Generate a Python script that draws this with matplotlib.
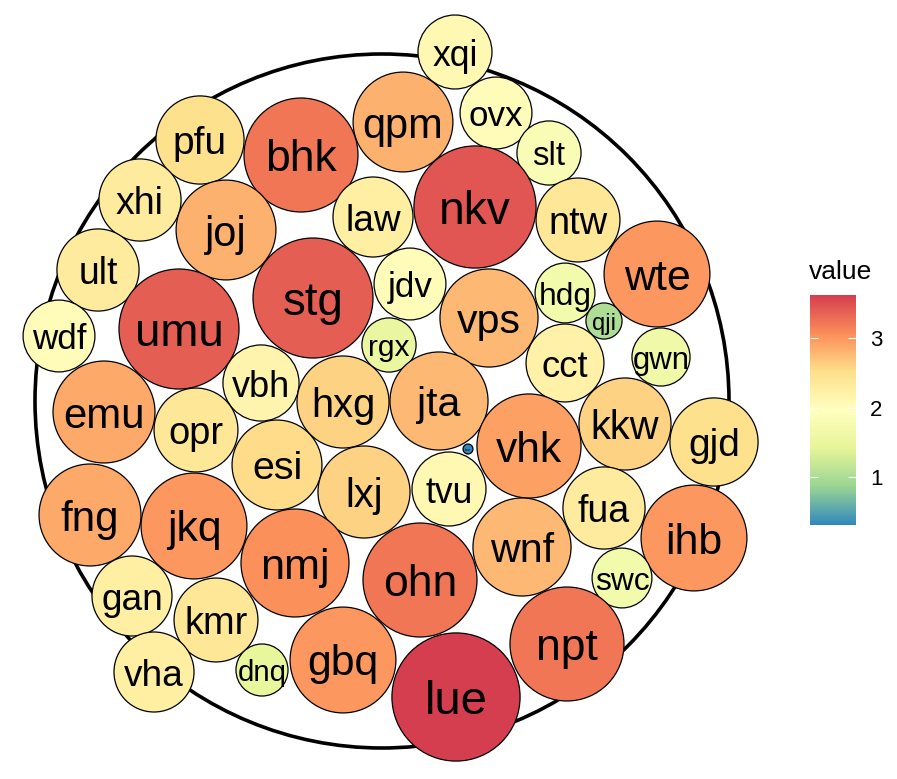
"""Packed bubble chart: 50 labelled circles inside an enclosing ring,
fill and size both driven by `value`, Spectral palette.
"""

import numpy as np
import matplotlib.pyplot as plt
from matplotlib.patches import Circle
from matplotlib.colors import LinearSegmentedColormap, Normalize
from matplotlib.cm import ScalarMappable

plt.rcParams["font.family"] = ["Liberation Sans", "DejaVu Sans"]

# circle centres (layout units, origin = centre of the enclosing ring, y up)
labels = ["xqi", "ovx", "slt", "qpm", "pfu", "bhk", "nkv", "xhi", "joj", "law",
          "ntw", "ult", "stg", "jdv", "wte", "hdg", "qji", "wdf", "umu", "rgx",
          "vps", "cct", "gwn", "vbh", "emu", "hxg", "jta", "opr", "kkw", "gjd",
          "bzo", "vhk", "esi", "lxj", "tvu", "fua", "fng", "jkq", "ihb", "wnf",
          "nmj", "ohn", "swc", "gan", "kmr", "npt", "gbq", "vha", "dnq", "lue"]
x = [73, 114, 167, 21, -182, -81, 93, -242, -156, -9,
     196, -284, -69, 28, 275, 183, 222, -323, -203, 7,
     107, 183, 279, -121, -278, -39, 57, -186, 243, 332,
     86, 147, -105, -18, 67, 222, -292, -188, 312, 140,
     -87, 38, 240, -250, -166, 185, -39, -228, -120, 74]
y = [349, 288, 248, 279, 261, 246, 194, 201, 171, 184,
     181, 131, 103, 117, 127, 108, 80, 65, 72, 56,
     83, 38, 44, 18, -11, -1, 0, -29, -23, -41,
     -48, -45, -64, -91, -88, -107, -114, -125, -137, -146,
     -162, -179, -177, -195, -219, -243, -259, -271, -269, -296]
value = [2.09, 2.03, 1.81, 2.82, 2.49, 3.22, 3.45, 2.32, 2.82, 2.26,
         2.37, 2.32, 3.39, 2.03, 2.99, 1.69, 1.02, 2.03, 3.39, 1.53,
         2.77, 2.20, 1.64, 2.15, 2.88, 2.60, 2.77, 2.37, 2.60, 2.49,
         0.28, 2.94, 2.54, 2.60, 2.09, 2.32, 2.88, 2.99, 2.99, 2.77,
         3.05, 3.22, 1.69, 2.26, 2.37, 3.22, 2.99, 2.26, 1.47, 3.62]

ring_radius = 347
px_per_value = 17.7          # circle radius = value * px_per_value
vmin, vmax = 0.31, 3.62

spectral = ["#3288BD", "#99D594", "#E6F598", "#FFFFBF",
            "#FEE08B", "#FC8D59", "#D53E4F"]
cmap = LinearSegmentedColormap.from_list("spectral_r", spectral)
norm = Normalize(vmin=vmin, vmax=vmax)

fig = plt.figure(figsize=(8.97, 7.79), dpi=100)
ax = fig.add_axes([0, 0, 1, 1])
ax.set_xlim(-382, 515)
ax.set_ylim(-378, 401)
ax.axis("off")

ax.add_patch(Circle((0, 0), ring_radius, fill=False, lw=2.6,
                    edgecolor="black", zorder=1))

for lab, cx, cy, v in zip(labels, x, y, value):
    ax.add_patch(Circle((cx, cy), v * px_per_value,
                        facecolor=cmap(norm(v)), edgecolor="black",
                        lw=0.9, zorder=2))
    t = np.clip((v - vmin) / (vmax - vmin), 0, 1)
    fs = 2.5 + (34 - 2.5) * np.sqrt(t)
    ax.text(cx, cy, lab, ha="center", va="center_baseline",
            fontsize=fs, color="black", zorder=3)

# colour bar
cax = fig.add_axes([810 / 897, 1 - 525 / 779, 46 / 897, 230 / 779])
cb = fig.colorbar(ScalarMappable(norm=norm, cmap=cmap), cax=cax,
                  ticks=[1, 2, 3])
cb.outline.set_visible(False)
cax.tick_params(direction="in", length=5.5, width=0.8, color="white",
                left=True, right=True, labelsize=16, pad=10)
fig.text(809 / 897, 1 - 279 / 779, "value", fontsize=19,
         ha="left", va="baseline")

fig.savefig("out.png", dpi=100)
